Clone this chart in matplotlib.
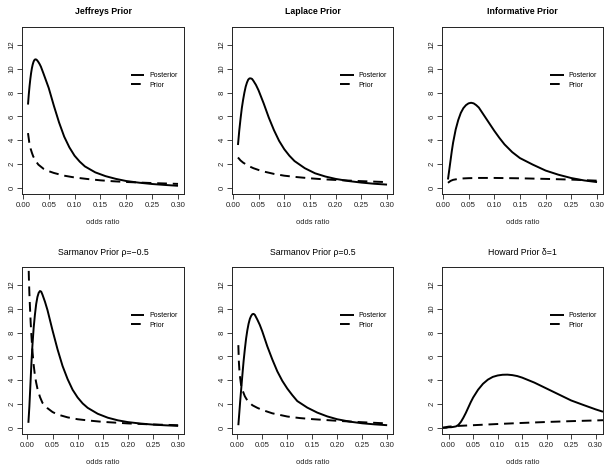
import matplotlib
matplotlib.use("Agg")
import matplotlib.pyplot as plt

plt.rcParams['font.family'] = ['Liberation Sans', 'DejaVu Sans']

titles = ["Jeffreys Prior", "Laplace Prior", "Informative Prior",
          "Sarmanov Prior \u03c1=\u22120.5", "Sarmanov Prior \u03c1=0.5", "Howard Prior \u03b4=1"]
title_bold = [True, True, True, False, False, False]
xlabel = "odds ratio"
legend_labels = ["Posterior", "Prior"]
xticks = [0.00, 0.05, 0.10, 0.15, 0.20, 0.25, 0.30]
xtick_labels = ["0.00", "0.05", "0.10", "0.15", "0.20", "0.25", "0.30"]
yticks = [0, 2, 4, 6, 8, 10, 12]

# Jeffreys
jef_post_x = [0.010, 0.0115, 0.013, 0.0145, 0.016, 0.0175, 0.019, 0.0205, 0.022, 0.0235, 0.025,
              0.0265, 0.028, 0.030, 0.0325, 0.035, 0.040, 0.045,
              0.050, 0.060, 0.070, 0.080, 0.090, 0.100, 0.110, 0.120, 0.140, 0.160, 0.180, 0.200,
              0.225, 0.250, 0.275, 0.300]
jef_post_y = [7.0, 7.85, 8.55, 9.15, 9.65, 10.05, 10.35, 10.57, 10.72, 10.79, 10.8,
              10.77, 10.7, 10.58, 10.4, 10.18, 9.6, 9.0,
              8.4, 6.9, 5.5, 4.3, 3.4, 2.7, 2.2, 1.8, 1.3, 0.98, 0.75, 0.57,
              0.43, 0.32, 0.24, 0.17]
jef_prior_x = [0.010, 0.0125, 0.015, 0.0175, 0.020, 0.025, 0.030, 0.040, 0.050, 0.060, 0.080,
               0.100, 0.125, 0.150, 0.175, 0.200, 0.250, 0.300]
jef_prior_y = [4.6, 3.8, 3.3, 2.95, 2.65, 2.25, 1.95, 1.6, 1.4, 1.25, 1.02,
               0.87, 0.74, 0.63, 0.55, 0.49, 0.40, 0.33]

# Laplace
lap_post_x = [0.010, 0.0125, 0.015, 0.0175, 0.020, 0.0225, 0.025, 0.0275, 0.030, 0.0325, 0.035,
              0.0375, 0.040, 0.045, 0.050, 0.060, 0.070, 0.080, 0.090, 0.100, 0.110, 0.120,
              0.140, 0.160, 0.180, 0.200, 0.225, 0.250, 0.275, 0.300]
lap_post_y = [3.6, 4.8, 5.8, 6.7, 7.4, 8.0, 8.5, 8.85, 9.1, 9.2, 9.2,
              9.15, 9.0, 8.65, 8.2, 7.1, 5.9, 4.85, 3.95, 3.25, 2.7, 2.25,
              1.65, 1.22, 0.95, 0.75, 0.57, 0.44, 0.34, 0.27]
lap_prior_x = [0.010, 0.015, 0.020, 0.030, 0.040, 0.050, 0.060, 0.080, 0.100, 0.125, 0.150,
               0.175, 0.200, 0.250, 0.300]
lap_prior_y = [2.55, 2.3, 2.12, 1.85, 1.65, 1.5, 1.37, 1.17, 1.02, 0.9, 0.8,
               0.72, 0.66, 0.56, 0.48]

# Informative
inf_post_x = [0.010, 0.0125, 0.015, 0.0175, 0.020, 0.025, 0.030, 0.035, 0.040, 0.045, 0.050,
              0.055, 0.060, 0.065, 0.070, 0.080, 0.090, 0.100, 0.110, 0.120, 0.135, 0.150,
              0.175, 0.200, 0.225, 0.250, 0.275, 0.300]
inf_post_y = [0.7, 1.5, 2.3, 3.1, 3.8, 4.9, 5.7, 6.3, 6.7, 6.95, 7.1,
              7.15, 7.1, 6.95, 6.75, 6.1, 5.45, 4.8, 4.2, 3.65, 3.0, 2.5,
              1.95, 1.45, 1.1, 0.82, 0.62, 0.48]
inf_prior_x = [0.010, 0.015, 0.020, 0.030, 0.040, 0.050, 0.070, 0.100, 0.150, 0.200, 0.250, 0.300]
inf_prior_y = [0.42, 0.58, 0.67, 0.75, 0.79, 0.81, 0.83, 0.83, 0.80, 0.75, 0.69, 0.60]

# Sarmanov rho = -0.5
sm_post_x = [0.002, 0.004, 0.006, 0.008, 0.010, 0.0125, 0.015, 0.0175, 0.020, 0.0225, 0.025,
             0.0275, 0.030, 0.035, 0.040, 0.045, 0.050, 0.060, 0.070, 0.080, 0.090, 0.100,
             0.110, 0.120, 0.140, 0.160, 0.180, 0.200, 0.225, 0.250, 0.275, 0.300]
sm_post_y = [0.42, 1.8, 3.6, 5.4, 6.9, 8.4, 9.5, 10.4, 11.0, 11.35, 11.5,
             11.45, 11.2, 10.6, 9.9, 9.05, 8.2, 6.6, 5.2, 4.1, 3.2, 2.55,
             2.05, 1.68, 1.18, 0.85, 0.63, 0.48, 0.36, 0.27, 0.21, 0.16]
sm_prior_x = [0.002, 0.003, 0.004, 0.005, 0.0065, 0.008, 0.010, 0.0125, 0.015, 0.0175, 0.020,
              0.025, 0.030, 0.040, 0.050, 0.060, 0.080, 0.100, 0.125, 0.150, 0.200, 0.250, 0.300]
sm_prior_y = [14.5, 12.6, 11.3, 10.3, 8.9, 7.8, 6.5, 5.3, 4.4, 3.8, 3.3,
              2.6, 2.1, 1.65, 1.33, 1.12, 0.88, 0.72, 0.6, 0.5, 0.37, 0.28, 0.22]

# Sarmanov rho = 0.5
sp_post_x = [0.002, 0.004, 0.006, 0.008, 0.010, 0.0125, 0.015, 0.0175, 0.020, 0.0225, 0.025,
             0.0275, 0.030, 0.0325, 0.035, 0.040, 0.045, 0.050, 0.060, 0.070, 0.080, 0.090,
             0.100, 0.110, 0.120, 0.140, 0.160, 0.180, 0.200, 0.225, 0.250, 0.275, 0.300]
sp_post_y = [0.22, 1.3, 2.4, 3.4, 4.4, 5.6, 6.6, 7.5, 8.2, 8.75, 9.15,
             9.4, 9.55, 9.58, 9.5, 9.1, 8.65, 8.1, 6.85, 5.75, 4.75, 3.95,
             3.3, 2.75, 2.25, 1.7, 1.28, 0.96, 0.72, 0.52, 0.38, 0.29, 0.22]
sp_prior_x = [0.002, 0.003, 0.004, 0.005, 0.0075, 0.010, 0.015, 0.020, 0.030, 0.040, 0.050,
              0.070, 0.100, 0.125, 0.150, 0.200, 0.250, 0.300]
sp_prior_y = [6.95, 5.6, 4.9, 4.4, 3.6, 3.2, 2.65, 2.3, 1.9, 1.68, 1.5,
              1.22, 0.95, 0.82, 0.73, 0.59, 0.47, 0.37]

# Howard delta = 1
how_post_x = [-0.0136, -0.005, 0.000, 0.005, 0.010, 0.015, 0.020, 0.025, 0.030, 0.035, 0.040,
              0.045, 0.050, 0.060, 0.070, 0.080, 0.090, 0.100, 0.110, 0.120, 0.130, 0.140,
              0.150, 0.175, 0.200, 0.225, 0.250, 0.275, 0.300, 0.315]
how_post_y = [0.0, 0.0, 0.05, 0.05, 0.08, 0.12, 0.25, 0.5, 0.85, 1.25, 1.7,
              2.15, 2.55, 3.2, 3.7, 4.05, 4.28, 4.4, 4.46, 4.47, 4.43, 4.35,
              4.22, 3.8, 3.3, 2.8, 2.3, 1.92, 1.55, 1.35]
how_prior_x = [-0.0136, 0.000, 0.010, 0.020, 0.050, 0.100, 0.150, 0.200, 0.250, 0.300, 0.315]
how_prior_y = [0.0, 0.1, 0.13, 0.16, 0.22, 0.32, 0.41, 0.49, 0.56, 0.62, 0.64]

posts = [(jef_post_x, jef_post_y), (lap_post_x, lap_post_y), (inf_post_x, inf_post_y),
         (sm_post_x, sm_post_y), (sp_post_x, sp_post_y), (how_post_x, how_post_y)]
priors = [(jef_prior_x, jef_prior_y), (lap_prior_x, lap_prior_y), (inf_prior_x, inf_prior_y),
          (sm_prior_x, sm_prior_y), (sp_prior_x, sp_prior_y), (how_prior_x, how_prior_y)]
xlims = [(-0.0016, 0.3116), (-0.0016, 0.3116), (-0.0016, 0.3116),
         (-0.0107, 0.3117), (-0.0107, 0.3117), (-0.0136, 0.315)]

W, H = 612, 473
fig = plt.figure(figsize=(W / 100, H / 100), dpi=100)
cols = [(22, 184), (232, 393), (442, 603)]
rows = [(27, 194), (267, 434)]
ink = "#222222"

for i in range(6):
    r, c = divmod(i, 3)
    x0, x1 = cols[c]
    t0, b0 = rows[r]
    ax = fig.add_axes([x0 / W, 1 - b0 / H, (x1 - x0) / W, (b0 - t0) / H])
    px, py = posts[i]
    qx, qy = priors[i]
    ax.plot(px, py, color="black", lw=1.4, solid_capstyle="butt", solid_joinstyle="round",
            label=legend_labels[0])
    ax.plot(qx, qy, color="black", lw=1.4, dashes=(5, 3), label=legend_labels[1])
    ax.set_xlim(*xlims[i])
    ax.set_ylim(-0.52, 13.52)
    ax.set_xticks(xticks)
    ax.set_xticklabels(xtick_labels)
    ax.set_yticks(yticks)
    ax.set_yticklabels([str(v) for v in yticks], rotation=90, va="center")
    ax.tick_params(direction="out", length=3.4, width=0.6, colors=ink, labelsize=5.6, pad=2.5)
    ax.tick_params(axis="y", pad=1.3)
    for s in ax.spines.values():
        s.set_linewidth(0.7)
        s.set_color(ink)
    ax.legend(loc="upper left", bbox_to_anchor=(0.67, 0.728), frameon=False,
              fontsize=5.0, handlelength=2.0, handletextpad=0.7, labelspacing=0.35,
              borderpad=0, borderaxespad=0)
    cx = (x0 + x1) / 2 / W
    fig.text(cx, 1 - (t0 - 15) / H, titles[i], ha="center", va="center",
             fontsize=6.3, fontweight="bold" if title_bold[i] else "normal", color="black")
    fig.text(cx, 1 - (b0 + 28) / H, xlabel, ha="center", va="center", fontsize=5.4, color=ink)

fig.savefig("out.png", dpi=100)
